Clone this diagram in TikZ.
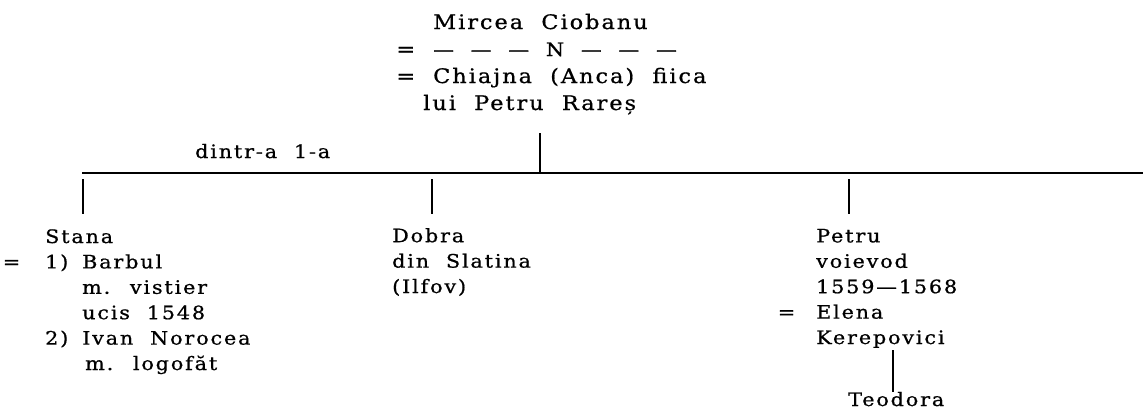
\documentclass[tikz,border=0pt]{standalone}
\usepackage{fontspec}
\setmainfont{DejaVu Serif}[FakeStretch=1.12,LetterSpace=10,WordSpace=2,FakeBold=0.8]
\usepackage{tikz}
\usetikzlibrary{positioning,calc}

\newcommand{\eqm}[1]{\llap{=\hspace{#1}}}

\begin{document}
\begin{tikzpicture}[
  x=1pt,y=-1pt,
  person/.style={anchor=base west,align=left,inner sep=0pt,
                 font=\fontsize{18.5}{25.4}\selectfont},
  link/.style={draw=black,line width=2.6pt}
]
\useasboundingbox (0,0) rectangle (1143,410);

% parents (anchor sits on the last line)
\node[person,font=\fontsize{20}{27}\selectfont] (mircea) at (433,110)
  {Mircea Ciobanu\\
   \eqm{18pt}{\fontsize{18.5}{27}\selectfont — — — N — — —}\\
   \eqm{18pt}Chiajna (Anca) fiica\\
   \hspace*{-10pt}lui Petru Rareș};

% children bar
\coordinate (bar-l) at (82,173);
\coordinate (bar-r) at (1143,173);
\coordinate (stub) at (540,133);
\draw[link] (bar-l) -- (bar-r);
\draw[link] (stub) -- (stub |- bar-l);
\node[person] (first) at (195,158) {dintr-a 1-a};

% children
\node[person] (stana) at (45,370)
  {Stana\\
   \eqm{25pt}\makebox[37pt][l]{1)}Barbul\\
   \hspace*{37pt}m. vistier\\
   \hspace*{37pt}ucis 1548\\
   \makebox[37pt][l]{2)}Ivan Norocea\\
   \hspace*{40pt}m. logofăt};
\node[person] (dobra) at (392,293)
  {Dobra\\ din Slatina\\ (Ilfov)};
\node[person] (petru) at (816,344)
  {Petru\\ voievod\\ 1559—1568\\ \eqm{21pt}Elena\\ Kerepovici};
\node[person] (teodora) at (848,406) {Teodora};

\coordinate (d1) at (83,179);
\coordinate (d2) at (432,179);
\coordinate (d3) at (849,179);
\foreach \d in {d1,d2,d3}
  \draw[link] (\d) -- ++(0,35);

\coordinate (d4) at (893,350);
\draw[link] (d4) -- (d4 |- teodora.north);
\end{tikzpicture}
\end{document}
